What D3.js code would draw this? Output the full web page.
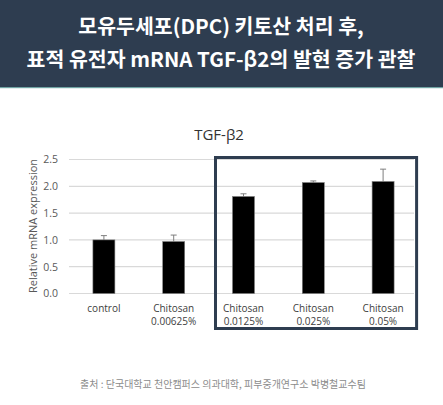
<!DOCTYPE html>
<html>
<head>
<meta charset="utf-8">
<script src="https://cdn.jsdelivr.net/npm/d3@7"></script>
<style>
  body { margin: 0; background: #fff; }
  svg { display: block; }
</style>
</head>
<body>
<svg id="chart"></svg>
<script>
const categories = ["control", "Chitosan 0.00625%", "Chitosan 0.0125%", "Chitosan 0.025%", "Chitosan 0.05%"];
const values = [1.0, 0.97, 1.81, 2.07, 2.09];
const errors = [0.08, 0.12, 0.05, 0.03, 0.23];
const yTicks = [0, 0.5, 1.0, 1.5, 2.0, 2.5];
const titleLines = ["모유두세포(DPC) 키토산 처리 후,", "표적 유전자 mRNA TGF-β2의 발현 증가 관찰"];
const source = "출처 : 단국대학교 천안캠퍼스 의과대학, 피부중개연구소 박병철교수팀";

const width = 443;
const height = 405;
const svg = d3.select("#chart").attr("width", width).attr("height", height);
const kr = "'Noto Sans CJK KR', 'Noto Sans', sans-serif";
const latin = "'Open Sans', 'Noto Sans', sans-serif";

// header band
svg.append("rect").attr("x", 0).attr("y", 0).attr("width", width).attr("height", 87).attr("fill", "#2e3d50");
svg.append("rect").attr("x", 0).attr("y", 87).attr("width", width).attr("height", 1.2).attr("fill", "#6fa3a3");
svg.selectAll(".head")
  .data(titleLines)
  .enter()
  .append("text")
  .attr("class", "head")
  .attr("x", 221)
  .attr("y", (d, i) => 34 + i * 33)
  .attr("text-anchor", "middle")
  .attr("fill", "#fff")
  .style("font-family", kr)
  .style("font-weight", "bold")
  .style("font-size", "20.5px")
  .text(d => d);

const x = d3.scaleBand().domain(categories).range([69, 418]).paddingInner(0.685).paddingOuter(0.3425);
const y = d3.scaleLinear().domain([0, 2.5]).range([293.5, 159.5]);

// gridlines
svg.append("g")
  .selectAll("line")
  .data(yTicks)
  .enter()
  .append("line")
  .attr("x1", 69)
  .attr("x2", 414)
  .attr("y1", d => y(d))
  .attr("y2", d => y(d))
  .attr("stroke", "#d9d9d9")
  .attr("stroke-width", 1.2);

// y axis labels
const yAxis = svg.append("g")
  .attr("transform", "translate(66,0)")
  .call(d3.axisLeft(y).tickValues(yTicks).tickFormat(d3.format(".1f")).tickSize(0).tickPadding(8));
yAxis.select(".domain").remove();
yAxis.selectAll("text")
  .attr("fill", "#595959")
  .style("font-family", latin)
  .style("font-size", "10.5px");

svg.append("text")
  .attr("transform", "translate(37,226) rotate(-90)")
  .attr("text-anchor", "middle")
  .attr("fill", "#595959")
  .style("font-family", latin)
  .style("font-size", "11px")
  .text("Relative mRNA expression");

// chart title
svg.append("text")
  .attr("x", 219)
  .attr("y", 140)
  .attr("text-anchor", "middle")
  .attr("fill", "#333")
  .style("font-family", latin)
  .style("font-size", "15px")
  .text("TGF-β2");

// error bars
const eb = svg.append("g")
  .selectAll("g")
  .data(categories)
  .enter()
  .append("g");
eb.append("line")
  .attr("x1", d => x(d) + x.bandwidth() / 2)
  .attr("x2", d => x(d) + x.bandwidth() / 2)
  .attr("y1", (d, i) => y(values[i]))
  .attr("y2", (d, i) => y(values[i] + errors[i]))
  .attr("stroke", "#7f7f7f")
  .attr("stroke-width", 1);
eb.append("line")
  .attr("x1", d => x(d) + x.bandwidth() / 2 - 3)
  .attr("x2", d => x(d) + x.bandwidth() / 2 + 3)
  .attr("y1", (d, i) => y(values[i] + errors[i]))
  .attr("y2", (d, i) => y(values[i] + errors[i]))
  .attr("stroke", "#7f7f7f")
  .attr("stroke-width", 1);

// bars
svg.append("g")
  .selectAll("rect")
  .data(categories)
  .enter()
  .append("rect")
  .attr("x", d => x(d))
  .attr("y", (d, i) => y(values[i]))
  .attr("width", x.bandwidth())
  .attr("height", (d, i) => y(0) - y(values[i]))
  .attr("fill", "#000")
  .attr("stroke", "#7f7f7f")
  .attr("stroke-width", 0.6);

// category labels
const lab = svg.append("g")
  .selectAll("text")
  .data(categories)
  .enter()
  .append("text")
  .attr("text-anchor", "middle")
  .attr("fill", "#404040")
  .style("font-family", latin)
  .style("font-size", "10px");
lab.each(function (d) {
  const parts = d === "control" ? ["control"] : d.split(" ");
  const cx = x(d) + x.bandwidth() / 2;
  d3.select(this)
    .selectAll("tspan")
    .data(parts)
    .enter()
    .append("tspan")
    .attr("x", cx)
    .attr("y", (p, i) => 312 + i * 13)
    .text(p => p);
});

// highlight box around the last three groups
const boxLeft = x(categories[2]) + x.bandwidth() / 2 - 28;
const boxRight = x(categories[4]) + x.bandwidth() / 2 + 33.5;
svg.append("rect")
  .attr("x", boxLeft)
  .attr("y", 157.5)
  .attr("width", boxRight - boxLeft)
  .attr("height", 171)
  .attr("fill", "none")
  .attr("stroke", "#2e3d50")
  .attr("stroke-width", 3);

// source
svg.append("text")
  .attr("x", 223)
  .attr("y", 388)
  .attr("text-anchor", "middle")
  .attr("fill", "#8c8c8c")
  .style("font-family", kr)
  .style("font-size", "10px")
  .text(source);
</script>
</body>
</html>
